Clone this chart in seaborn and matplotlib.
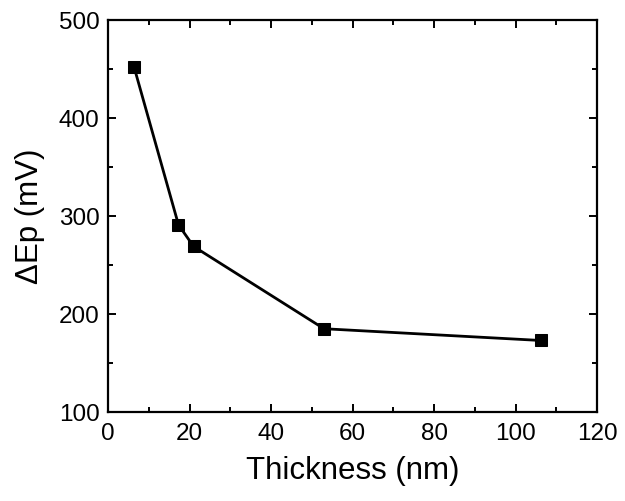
import numpy as np
import pandas as pd
import seaborn as sns
import matplotlib.pyplot as plt
from matplotlib.ticker import MultipleLocator

thickness = [6.4, 17.3, 21.0, 53.0, 106.2]
delta_ep = [452, 291, 269, 185, 173]

sns.set_style("ticks")
plt.rcParams['font.family'] = ['Liberation Sans', 'DejaVu Sans']
plt.rcParams['text.color'] = 'black'
plt.rcParams['axes.labelcolor'] = 'black'

df = pd.DataFrame({"Thickness": thickness, "dEp": delta_ep})

fig = plt.figure(figsize=(6.25, 5.01), dpi=100)
ax = fig.add_axes([0.1728, 0.1776, 0.7824, 0.7824])

sns.lineplot(x="Thickness", y="dEp", data=df, ax=ax, color="black", linewidth=2,
             marker="s", markersize=8, markeredgecolor="black", markerfacecolor="black")

ax.set_xlim(0, 120)
ax.set_ylim(100, 500)
ax.xaxis.set_major_locator(MultipleLocator(20))
ax.xaxis.set_minor_locator(MultipleLocator(10))
ax.yaxis.set_major_locator(MultipleLocator(100))
ax.yaxis.set_minor_locator(MultipleLocator(50))
ax.tick_params(which="both", direction="in", top=True, right=True, width=1.4,
               colors="black", labelcolor="black")
ax.tick_params(which="major", length=6, labelsize=17.5)
ax.tick_params(axis="x", which="major", pad=8)
ax.tick_params(axis="y", which="major", pad=6)
ax.tick_params(which="minor", length=3.5)
for s in ax.spines.values():
    s.set_linewidth(1.6)
    s.set_color("black")

ax.set_xlabel("Thickness (nm)", fontsize=22.5, labelpad=8)
ax.set_ylabel("ΔEp (mV)", fontsize=22.5, labelpad=10)

fig.savefig("out.png", dpi=100)
